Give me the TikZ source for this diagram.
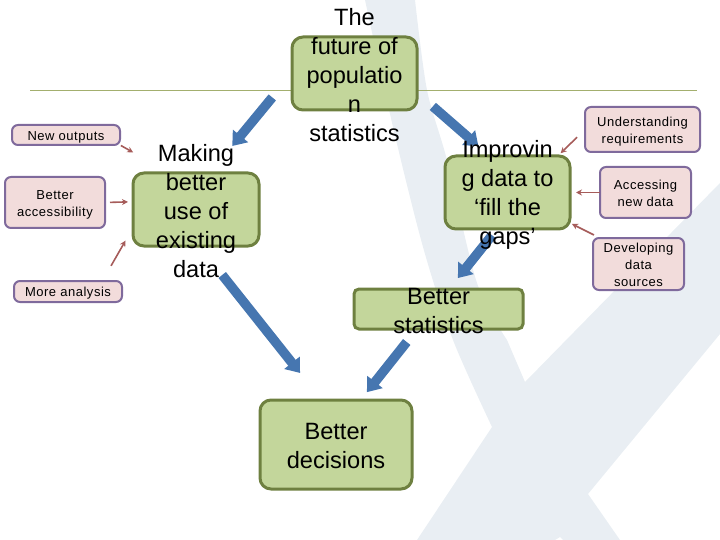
\documentclass[tikz,border=0pt]{standalone}
\usepackage{fontspec}
\setmainfont{Liberation Sans}
\newfontfamily\sidefont[LetterSpace=4]{Liberation Sans}
\usetikzlibrary{arrows.meta}

\definecolor{boxgreen}{HTML}{C3D69B}
\definecolor{edgegreen}{HTML}{6E8040}
\definecolor{boxpink}{HTML}{F2DCDB}
\definecolor{edgepurple}{HTML}{7F6A9C}
\definecolor{arrowblue}{HTML}{4676B0}
\definecolor{arrowred}{HTML}{A65C5A}
\definecolor{rulegreen}{HTML}{A3AF6E}
\definecolor{markgrey}{HTML}{E9EEF3}

\newcommand*{\sidelines}[1]{\raisebox{-4.75pt}[0pt][0pt]{\begin{tabular}{@{}c@{}}#1\end{tabular}}}

\begin{document}
\begin{tikzpicture}
[
	x=1pt,
	y=-1pt,
	outer sep=0pt,
	mainbox/.style={rectangle,rounded corners=11pt,draw=edgegreen,fill=boxgreen,line width=3pt,inner sep=0pt},
	sidebox/.style={rectangle,rounded corners=6pt,draw=edgepurple,fill=boxpink,line width=2pt,inner sep=0pt,font=\sidefont\fontsize{13}{17}\selectfont},
	maintext/.style={align=center,inner sep=0pt,font=\fontsize{23.6}{29}\selectfont},
	bigarrow/.style={-{Triangle[length=13pt,width=19pt]},arrowblue,line width=9.5pt},
	smallarrow/.style={-{Stealth[length=6pt,width=6pt]},arrowred,line width=1.6pt}
]

	\useasboundingbox (0,0) rectangle (720,540);

	% logo mark behind everything
	\fill[markgrey] plot[smooth] coordinates {(365,0) (393,127) (423,247) (453,340) (492,427)}
		-- (417,540) -- (555,540) -- (560,537) -- (563,540) -- (620,540) -- (588,494)
		-- (720,334) -- (720,183) -- (525,382)
		-- plot[smooth] coordinates {(507,340) (477,283) (447,160) (427,90) (415,0)} -- cycle;

	% rule
	\coordinate (ruleleft) at (30,90);
	\coordinate (ruleright) at (697,90);
	\draw[rulegreen,line width=0.9pt] (ruleleft) -- (ruleright);

	% main boxes
	\node[mainbox,minimum width=125pt,minimum height=73pt] (future) at (354.5,73.5) {};
	\node[mainbox,minimum width=126pt,minimum height=73pt] (making) at (196,209.5) {};
	\node[mainbox,minimum width=125pt,minimum height=73pt] (improving) at (507.5,192.5) {};
	\node[mainbox,minimum width=169pt,minimum height=40pt,rounded corners=5pt] (statistics) at (438.5,309) {};
	\node[mainbox,minimum width=152pt,minimum height=89pt] (decisions) at (336,444.5) {};

	% side boxes
	\node[sidebox,minimum width=108pt,minimum height=20pt] (outputs) at (66,135) {\sidelines{New outputs}};
	\node[sidebox,minimum width=100pt,minimum height=51pt] (accessibility) at (55,202.5) {\sidelines{Better\\accessibility}};
	\node[sidebox,minimum width=108pt,minimum height=21pt] (analysis) at (68,291.5) {\sidelines{More analysis}};
	\node[sidebox,minimum width=115pt,minimum height=45pt] (requirements) at (642.5,129.5) {\sidelines{Understanding\\requirements}};
	\node[sidebox,minimum width=91pt,minimum height=51pt] (newdata) at (645.5,192.5) {\sidelines{Accessing\\new data}};
	\node[sidebox,minimum width=91pt,minimum height=52pt] (sources) at (638.5,264) {\sidelines{Developing\\data\\sources}};

	% big arrows
	\draw[bigarrow,shorten <=31pt,shorten >=35pt] (future.west) -- (making.69);
	\draw[bigarrow,shorten <=21pt,shorten >=15pt] (future.343.5) -- (improving.116.9);
	\draw[bigarrow,shorten <=37pt,shorten >=34.5pt] (making.275) -- (decisions.108);
	\draw[bigarrow,shorten <=8pt,shorten >=14pt] (improving.254) -- (statistics.62);
	\draw[bigarrow,shorten <=16.6pt,shorten >=10pt] (statistics.223) -- (decisions.61);

	% small arrows
	\draw[smallarrow,shorten <=1pt,shorten >=41.7pt] (outputs.south east) -- (making.126.5);
	\draw[smallarrow,shorten <=5pt,shorten >=5pt] (accessibility.east) -- (making.173);
	\draw[smallarrow,shorten <=17.5pt,shorten >=15pt] (analysis.17.6) -- (making.196.4);
	\draw[smallarrow,shorten <=11pt,shorten >=4pt] (requirements.west) -- (improving.36.4);
	\draw[smallarrow,shorten >=6pt] (newdata.west) -- (improving.east);
	\draw[smallarrow,shorten <=6.7pt,shorten >=2.2pt] (sources.146.6) -- (improving.334);

	% texts run over the box edges
	\node[maintext] (futuretext) at (354.5,75) {The\\future of\\populatio\\n\\statistics};
	\node[maintext] (makingtext) at (196,211) {Making\\better\\use of\\existing\\data};
	\node[maintext] (improvingtext) at (507.5,194.5) {Improvin\\g data to\\‘fill the\\gaps’};
	\node[maintext] (statisticstext) at (438.5,311) {Better\\statistics};
	\node[maintext] (decisionstext) at (336,445.5) {Better\\decisions};

\end{tikzpicture}
\end{document}
